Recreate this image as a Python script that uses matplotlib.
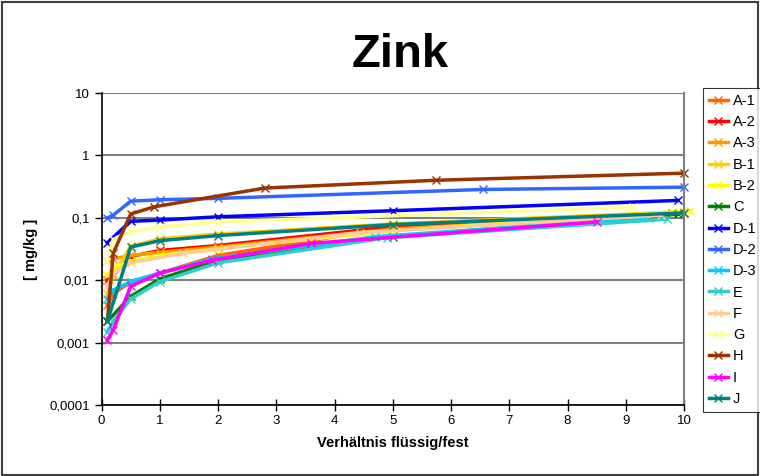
import matplotlib
matplotlib.use("Agg")
import matplotlib.pyplot as plt
from matplotlib.patches import Rectangle
from matplotlib.ticker import FixedLocator, FixedFormatter

plt.rcParams['font.family'] = ['Liberation Sans', 'DejaVu Sans']

names = ["A-1", "A-2", "A-3", "B-1", "B-2", "C", "D-1", "D-2", "D-3",
         "E", "F", "G", "H", "I", "J"]
colors = ["#FF6600", "#FF0000", "#FF9900", "#FFCC00", "#FFFF00", "#008000",
          "#0000FF", "#3366FF", "#00CCFF", "#33CCCC", "#FFCC99", "#FFFF99",
          "#993300", "#FF00FF", "#008080"]

# verhaeltnis fluessig/fest (x) und konzentration mg/kg (y) je probe
x_a1 = [0.1, 0.2, 0.5, 1, 2, 5, 10]
y_a1 = [0.004, 0.006, 0.0095, 0.013, 0.025, 0.07, 0.12]
x_a2 = [0.1, 0.2, 0.5, 1, 2, 5, 9.8]
y_a2 = [0.010, 0.012, 0.024, 0.030, 0.036, 0.072, 0.12]
x_a3 = [0.1, 0.2, 0.5, 1, 2, 5, 10]
y_a3 = [0.020, 0.022, 0.025, 0.028, 0.034, 0.066, 0.12]
x_b1 = [0.1, 0.2, 0.5, 1, 2, 5, 10]
y_b1 = [0.006, 0.012, 0.035, 0.046, 0.055, 0.080, 0.125]
x_b2 = [0.1, 0.2, 0.5, 1, 2, 5, 10.1]
y_b2 = [0.012, 0.016, 0.020, 0.025, 0.032, 0.062, 0.13]
x_c = [0.1, 0.5, 1, 2, 5, 9.9]
y_c = [0.0022, 0.0055, 0.0105, 0.021, 0.050, 0.115]
x_d1 = [0.1, 0.5, 1, 2, 5, 9.9]
y_d1 = [0.040, 0.088, 0.092, 0.104, 0.130, 0.19]
x_d2 = [0.1, 0.2, 0.5, 1, 2, 6.55, 10]
y_d2 = [0.100, 0.110, 0.185, 0.195, 0.205, 0.285, 0.31]
x_d3 = [0.1, 0.2, 0.5, 1, 1.9, 4.7, 9.4]
y_d3 = [0.005, 0.007, 0.0095, 0.013, 0.022, 0.050, 0.10]
x_e = [0.1, 0.2, 0.5, 1, 2, 4.9, 9.7]
y_e = [0.0015, 0.0022, 0.005, 0.0095, 0.019, 0.048, 0.095]
x_f = [0.1, 0.2, 0.5, 1.4, 4.43, 9.6]
y_f = [0.008, 0.013, 0.019, 0.027, 0.058, 0.11]
x_g = [0.1, 0.2, 0.5, 1, 2, 4.04, 9.13]
y_g = [0.020, 0.045, 0.060, 0.072, 0.086, 0.10, 0.15]
x_h = [0.1, 0.2, 0.5, 0.9, 2.8, 5.75, 10]
y_h = [0.0022, 0.027, 0.115, 0.15, 0.30, 0.40, 0.52]
x_i = [0.1, 0.2, 0.5, 1, 1.9, 3.6, 8.5]
y_i = [0.0011, 0.0016, 0.008, 0.013, 0.021, 0.039, 0.086]
x_j = [0.1, 0.5, 1, 2, 5, 10]
y_j = [0.0022, 0.034, 0.043, 0.052, 0.078, 0.12]

xs = [x_a1, x_a2, x_a3, x_b1, x_b2, x_c, x_d1, x_d2, x_d3, x_e, x_f, x_g, x_h, x_i, x_j]
ys = [y_a1, y_a2, y_a3, y_b1, y_b2, y_c, y_d1, y_d2, y_d3, y_e, y_f, y_g, y_h, y_i, y_j]

yticks = [0.0001, 0.001, 0.01, 0.1, 1, 10]
ytick_labels = ["0,0001", "0,001", "0,01", "0,1", "1", "10"]

fig = plt.figure(figsize=(7.6, 4.76), dpi=100)
fig.patches.append(Rectangle((0.003, 0.003), 0.994, 0.992, transform=fig.transFigure,
                             fill=False, edgecolor="#404040", linewidth=1.5))
ax = fig.add_axes([0.1336, 0.149, 0.7664, 0.6556])

for yv in yticks:
    ax.axhline(yv, color="#808080", linewidth=1.5, zorder=0)

lines = []
for x, y, c in zip(xs, ys, colors):
    ln, = ax.plot(x, y, color=c, linewidth=2.5, marker="x", markersize=5.5,
                  markeredgewidth=1, clip_on=False)
    lines.append(ln)

ax.set_yscale("log")
ax.set_ylim(0.0001, 10)
ax.set_xlim(0, 10)
ax.yaxis.set_major_locator(FixedLocator(yticks))
ax.yaxis.set_major_formatter(FixedFormatter(ytick_labels))
ax.yaxis.set_minor_locator(FixedLocator([]))
ax.set_xticks(range(0, 11))
ax.tick_params(axis="both", labelsize=9.5, direction="out", length=5, width=1)
ax.tick_params(axis="x", direction="inout", length=8)

ax.spines["top"].set_visible(False)
ax.spines["right"].set_color("#808080")
ax.spines["right"].set_linewidth(1.5)
ax.spines["left"].set_linewidth(1.2)
ax.spines["bottom"].set_linewidth(1.2)

ax.set_xlabel("Verhältnis flüssig/fest", fontsize=10.5, fontweight="bold", labelpad=6)
ax.set_ylabel("[ mg/kg ]", fontsize=10.5, fontweight="bold", labelpad=8)
fig.text(0.5265, 0.885, "Zink", fontsize=34, fontweight="bold", ha="center", va="center")

leg = fig.legend(lines, names, loc="upper left", bbox_to_anchor=(0.925, 0.815),
                 fontsize=10.5, frameon=True, fancybox=False, edgecolor="#000000",
                 handlelength=1.3, handletextpad=0.35, labelspacing=0.5,
                 borderpad=0.4, borderaxespad=0)
leg.get_frame().set_linewidth(0.8)

fig.savefig("out.png", dpi=100)
